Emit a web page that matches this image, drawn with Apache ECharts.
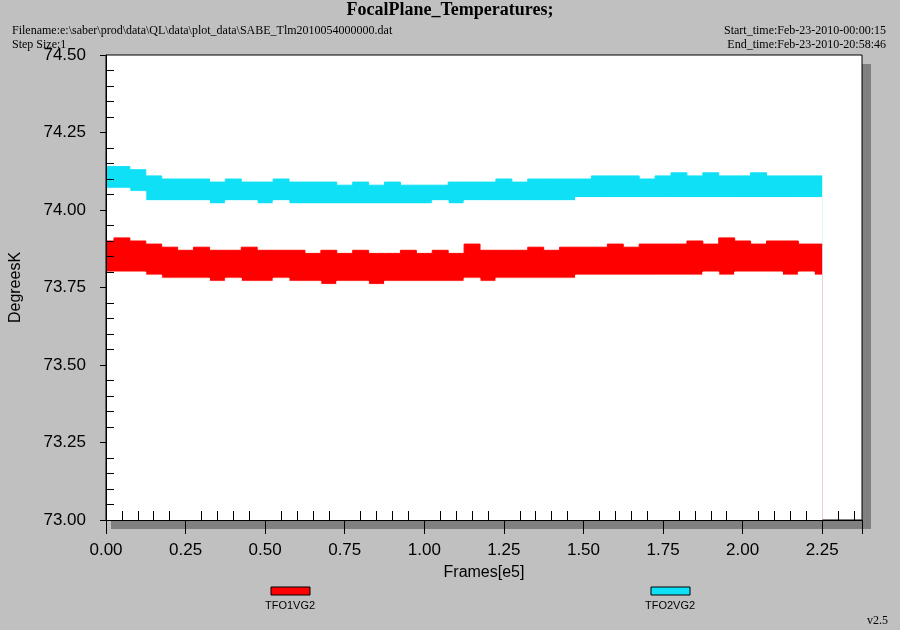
<!DOCTYPE html><html><head><meta charset="utf-8"><script src="https://cdn.jsdelivr.net/npm/echarts@6/dist/echarts.min.js"></script>
<style>html,body{margin:0;background:#c0c0c0}#c{width:900px;height:630px}</style></head><body><div id="c"></div><script>
const frames=[];for(let i=0;i<=45;i++)frames.push(+(i*0.05).toFixed(2));
const cyanHi=[74.14,74.14,74.13,74.11,74.10,74.10,74.10,74.09,74.10,74.09,74.09,74.10,74.09,74.09,74.09,74.08,74.09,74.08,74.09,74.08,74.08,74.08,74.09,74.09,74.09,74.10,74.09,74.10,74.10,74.10,74.10,74.11,74.11,74.11,74.10,74.11,74.12,74.11,74.12,74.11,74.11,74.12,74.11,74.11,74.11,74.11];
const cyanLo=[74.07,74.07,74.06,74.03,74.03,74.03,74.03,74.02,74.03,74.03,74.02,74.03,74.02,74.02,74.02,74.02,74.02,74.02,74.02,74.02,74.02,74.03,74.02,74.03,74.03,74.03,74.03,74.03,74.03,74.03,74.04,74.04,74.04,74.04,74.04,74.04,74.04,74.04,74.04,74.04,74.04,74.04,74.04,74.04,74.04,74.04];
const redHi=[73.90,73.91,73.90,73.89,73.88,73.87,73.88,73.87,73.87,73.88,73.87,73.87,73.87,73.86,73.87,73.86,73.87,73.86,73.86,73.87,73.86,73.87,73.86,73.89,73.87,73.87,73.87,73.88,73.87,73.88,73.88,73.88,73.89,73.88,73.89,73.89,73.89,73.90,73.89,73.91,73.90,73.89,73.90,73.90,73.89,73.89];
const redLo=[73.80,73.80,73.80,73.79,73.78,73.78,73.78,73.77,73.78,73.77,73.77,73.78,73.77,73.77,73.76,73.77,73.77,73.76,73.77,73.77,73.77,73.77,73.77,73.78,73.77,73.78,73.78,73.78,73.78,73.78,73.79,73.79,73.79,73.79,73.79,73.79,73.79,73.79,73.80,73.79,73.80,73.80,73.80,73.79,73.80,73.79];
const yTicks=['73.00','73.25','73.50','73.75','74.00','74.25','74.50'];
const pts=(a)=>frames.map((x,i)=>[x,a[i]]);
const area=(name,a,color,z)=>({type:'line',name:name,data:pts(a),symbol:'none',step:'middle',z:z,lineStyle:{color:color,width:1},areaStyle:{color:color,opacity:1,origin:'start'},silent:true});
const ch=echarts.init(document.getElementById('c'));
const F='Liberation Sans, Arial, sans-serif';
ch.setOption({backgroundColor:'#c0c0c0',animation:false,
grid:{left:102,right:38,top:55,bottom:110,show:true,backgroundColor:'#fff',borderColor:'#000',borderWidth:1},
graphic:[
 {type:'rect',z:-10,shape:{x:111,y:64,width:760,height:465},style:{fill:'#808080'}},
 {type:'text',left:'center',top:1,style:{text:'FocalPlane_Temperatures;',font:'bold 18px "Liberation Serif", serif',fill:'#000'}},
 {type:'text',left:12,top:25,style:{text:'Filename:e:\\saber\\prod\\data\\QL\\data\\plot_data\\SABE_Tlm2010054000000.dat',font:'12px "Liberation Serif", serif',fill:'#000'}},
 {type:'text',left:12,top:39,style:{text:'Step Size:1',font:'12px "Liberation Serif", serif',fill:'#000'}},
 {type:'text',right:14,top:25,style:{text:'Start_time:Feb-23-2010-00:00:15',font:'12px "Liberation Serif", serif',fill:'#000'}},
 {type:'text',right:14,top:39,style:{text:'End_time:Feb-23-2010-20:58:46',font:'12px "Liberation Serif", serif',fill:'#000'}},
 {type:'rect',shape:{x:271,y:587,width:39,height:8},style:{fill:'#ff0000',stroke:'#000',lineWidth:1}},
 {type:'text',x:290,y:600,style:{text:'TFO1VG2',font:'11px '+F,fill:'#000',align:'center'}},
 {type:'rect',shape:{x:651,y:587,width:39,height:8},style:{fill:'#10e0f5',stroke:'#000',lineWidth:1}},
 {type:'text',x:670,y:600,style:{text:'TFO2VG2',font:'11px '+F,fill:'#000',align:'center'}},
 {type:'text',right:12,top:615,style:{text:'v2.5',font:'12px "Liberation Serif", serif',fill:'#000'}}
],
xAxis:{type:'value',z:20,min:0,max:2.375,interval:0.25,name:'Frames[e5]',nameLocation:'middle',nameGap:45,nameTextStyle:{fontSize:16,fontFamily:F,color:'#000'},
 axisLine:{lineStyle:{color:'#000'}},axisTick:{length:14,lineStyle:{color:'#000'}},minorTick:{show:true,splitNumber:5,length:-9,lineStyle:{color:'#000'}},
 axisLabel:{formatter:v=>v.toFixed(2),fontSize:17,fontFamily:F,color:'#000',margin:22,showMaxLabel:false},splitLine:{show:false}},
yAxis:{type:'value',z:20,min:73,max:74.5,interval:0.25,name:'DegreesK',nameLocation:'middle',nameGap:82,nameTextStyle:{fontSize:16,fontFamily:F,color:'#000'},
 axisLine:{lineStyle:{color:'#000'}},axisTick:{length:6,lineStyle:{color:'#000'}},minorTick:{show:true,splitNumber:5,length:-8,lineStyle:{color:'#000'}},
 axisLabel:{formatter:v=>yTicks[Math.round((v-73)/0.25)],fontSize:17,fontFamily:F,color:'#000',margin:20},splitLine:{show:false}},
series:[area('TFO2VG2',cyanHi,'#10e0f5',2),area('c2',cyanLo,'#ffffff',3),area('TFO1VG2',redHi,'#ff0000',4),area('r2',redLo,'#ffffff',5)]
});
</script></body></html>
